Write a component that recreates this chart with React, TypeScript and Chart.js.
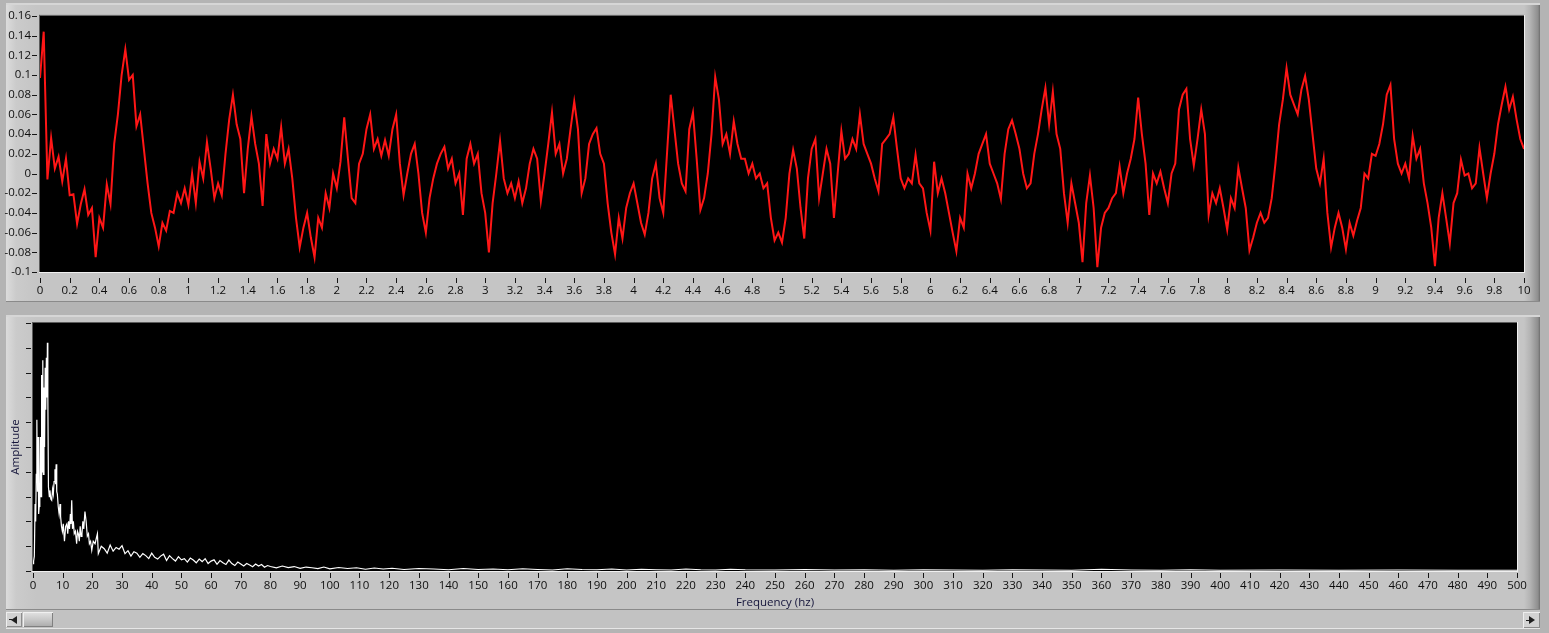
import React, { useEffect, useRef } from "react";
import { Chart, registerables } from "chart.js";

Chart.register(...registerables);

// ---------- Data ----------
const SAMPLE_STEP_S = 0.025;

// signal, t = 0 .. 3.325 s
const signalSeg1 = [
  0.097, 0.144, -0.006, 0.036, 0.005, 0.017, -0.008, 0.015, -0.022, -0.021,
  -0.051, -0.031, -0.016, -0.042, -0.035, -0.085, -0.045, -0.055, -0.011, -0.031,
  0.03, 0.06, 0.1, 0.126, 0.095, 0.1, 0.048, 0.06, 0.025, -0.01,
  -0.04, -0.055, -0.074, -0.05, -0.058, -0.038, -0.04, -0.02, -0.03, -0.015,
  -0.032, 0.0, -0.03, 0.012, -0.005, 0.032, 0.005, -0.025, -0.01, -0.022,
  0.02, 0.055, 0.08, 0.05, 0.035, -0.02, 0.025, 0.058, 0.03, 0.01,
  -0.033, 0.04, 0.01, 0.025, 0.015, 0.047, 0.01, 0.025, -0.005, -0.045,
  -0.075, -0.055, -0.04, -0.065, -0.085, -0.045, -0.055, -0.02, -0.035, 0.0,
  -0.015, 0.012, 0.057, 0.015, -0.025, -0.03, 0.01, 0.02, 0.045, 0.06,
  0.025, 0.035, 0.018, 0.034, 0.018, 0.045, 0.06, 0.01, -0.022, 0.0,
  0.02, 0.03, 0.0, -0.04, -0.06, -0.025, -0.005, 0.01, 0.02, 0.027,
  0.005, 0.015, -0.01, 0.0, -0.042, 0.015, 0.03, 0.01, 0.02, -0.02,
  -0.04, -0.08, -0.03, 0.0, 0.033, -0.005, -0.02, -0.01, -0.025, -0.008,
  -0.03, -0.015, 0.01, 0.025,
];

// signal, t = 3.35 .. 6.675 s
const signalSeg2 = [
  0.015, -0.028, 0.0, 0.03, 0.062, 0.02, 0.03, 0.0, 0.015, 0.045,
  0.073, 0.045, -0.02, -0.005, 0.03, 0.04, 0.046, 0.02, 0.01, -0.03,
  -0.06, -0.082, -0.045, -0.066, -0.035, -0.02, -0.01, -0.03, -0.05, -0.062,
  -0.04, -0.005, 0.01, -0.025, -0.04, 0.02, 0.08, 0.045, 0.01, -0.01,
  -0.018, 0.045, 0.062, 0.015, -0.037, -0.025, 0.0, 0.04, 0.098, 0.075,
  0.03, 0.04, 0.02, 0.053, 0.03, 0.015, 0.015, 0.0, 0.01, -0.005,
  0.0, -0.015, -0.01, -0.045, -0.068, -0.06, -0.07, -0.045, 0.0, 0.024,
  0.005, -0.035, -0.066, -0.005, 0.025, 0.035, -0.025, 0.0, 0.025, 0.01,
  -0.045, 0.0, 0.043, 0.015, 0.02, 0.035, 0.025, 0.06, 0.03, 0.02,
  0.01, -0.005, -0.018, 0.03, 0.035, 0.04, 0.057, 0.025, -0.005, -0.015,
  -0.005, -0.01, 0.019, -0.01, -0.015, -0.04, -0.058, 0.012, -0.02, -0.005,
  -0.02, -0.04, -0.06, -0.079, -0.045, -0.055, 0.0, -0.015, 0.0, 0.02,
  0.03, 0.04, 0.01, 0.0, -0.01, -0.026, 0.02, 0.045, 0.054, 0.04,
  0.025, 0.0, -0.015, -0.01,
];

// signal, t = 6.70 .. 10.0 s
const signalSeg3 = [
  0.02, 0.04, 0.065, 0.087, 0.05, 0.083, 0.04, 0.025, -0.02, -0.05,
  -0.01, -0.03, -0.05, -0.09, -0.03, -0.002, -0.035, -0.095, -0.055, -0.04,
  -0.035, -0.025, -0.02, 0.007, -0.02, 0.0, 0.015, 0.035, 0.077, 0.04,
  0.01, -0.042, 0.0, -0.01, 0.002, -0.015, -0.03, 0.0, 0.01, 0.065,
  0.08, 0.086, 0.035, 0.008, 0.035, 0.065, 0.04, -0.042, -0.02, -0.03,
  -0.015, -0.035, -0.057, -0.025, -0.035, 0.006, -0.015, -0.035, -0.078, -0.065,
  -0.05, -0.04, -0.05, -0.045, -0.025, 0.01, 0.05, 0.075, 0.107, 0.08,
  0.07, 0.06, 0.085, 0.099, 0.075, 0.04, 0.005, -0.01, 0.015, -0.04,
  -0.075, -0.055, -0.04, -0.055, -0.077, -0.05, -0.063, -0.048, -0.035, 0.0,
  -0.005, 0.02, 0.018, 0.03, 0.05, 0.08, 0.09, 0.035, 0.01, 0.0,
  0.01, -0.005, 0.038, 0.015, 0.025, -0.01, -0.03, -0.055, -0.094, -0.045,
  -0.02, -0.045, -0.071, -0.03, -0.02, 0.014, -0.002, 0.0, -0.015, -0.01,
  0.026, 0.0, -0.025, 0.0, 0.02, 0.05, 0.07, 0.088, 0.065, 0.078,
  0.055, 0.035, 0.025,
];

const timeSignal = [...signalSeg1, ...signalSeg2, ...signalSeg3];

// spectrum, 0 .. 21.7 Hz (amplitude in axis divisions 0..10)
const spectrumFreqLow = [
  0, 0.2, 0.45, 0.7, 0.9, 1.1, 1.3, 1.5, 1.7, 1.9,
  2.1, 2.3, 2.5, 2.7, 2.9, 3.1, 3.3, 3.5, 3.7, 3.9,
  4.1, 4.3, 4.5, 4.7, 4.85, 5.0, 5.2, 5.5, 5.7, 6.0,
  6.3, 6.6, 6.85, 7.1, 7.4, 7.6, 7.8, 8.0, 8.2, 8.5,
  8.8, 9.1, 9.3, 9.6, 9.9, 10.2, 10.6, 11.0, 11.4, 11.7,
  12.0, 12.3, 12.6, 12.8, 13.05, 13.3, 13.6, 13.9, 14.3, 14.7,
  15.0, 15.3, 15.6, 15.9, 16.2, 16.5, 16.8, 17.1, 17.5, 17.9,
  18.3, 18.7, 19.0, 19.4, 19.8, 20.3, 20.9, 21.3, 21.7,
];
const spectrumAmpLow = [
  0.3, 0.4, 0.6, 2.7, 2.0, 3.9, 6.1, 3.2, 5.4, 2.3,
  2.6, 3.4, 5.4, 3.0, 7.9, 4.0, 8.5, 3.9, 7.4, 5.0,
  8.2, 6.5, 8.6, 7.0, 9.2, 7.0, 3.4, 3.0, 3.25, 2.9,
  2.85, 3.3, 3.1, 3.6, 4.1, 3.5, 4.3, 3.2, 3.1, 2.6,
  2.3, 2.7, 2.2, 1.8, 1.6, 1.9, 1.2, 1.8, 1.9, 1.5,
  2.0, 1.7, 2.3, 1.9, 2.85, 1.7, 2.0, 1.5, 1.6, 1.1,
  1.6, 1.5, 1.2, 1.8, 1.4, 1.5, 2.0, 1.7, 2.4, 2.0,
  1.4, 1.5, 1.1, 1.2, 0.83, 1.2, 1.1, 1.3, 1.5,
];

// spectrum, 22 .. 121 Hz
const spectrumFreqMid = [
  22, 23, 24, 25, 26, 27, 28, 29, 30, 31,
  32, 33, 34, 35, 36, 37, 38, 39, 40, 41,
  42, 43, 44, 45, 46, 47, 48, 49, 50, 51,
  52, 53, 54, 55, 56, 57, 58, 59, 60, 61,
  62, 63, 64, 65, 66, 67, 68, 69, 70, 71,
  72, 73, 74, 75, 76, 77, 78, 79, 80, 82,
  84, 86, 88, 90, 92, 94, 96, 98, 100, 103,
  106, 109, 112, 115, 118, 121,
];
const spectrumAmpMid = [
  0.7, 1.0, 0.9, 0.72, 1.05, 0.8, 0.95, 0.88, 1.02, 0.7,
  0.82, 0.6, 0.78, 0.72, 0.55, 0.7, 0.62, 0.5, 0.72, 0.55,
  0.48, 0.6, 0.68, 0.42, 0.62, 0.5, 0.4, 0.58, 0.45, 0.5,
  0.36, 0.52, 0.44, 0.33, 0.48, 0.38, 0.5, 0.3, 0.4, 0.45,
  0.27, 0.42, 0.33, 0.26, 0.44, 0.3, 0.22, 0.36, 0.28, 0.2,
  0.3, 0.24, 0.17, 0.28, 0.2, 0.26, 0.15, 0.22, 0.18, 0.13,
  0.2, 0.14, 0.18, 0.11, 0.16, 0.13, 0.1, 0.16, 0.09, 0.14,
  0.1, 0.13, 0.07, 0.12, 0.08, 0.11,
];

// spectrum, 125 .. 500 Hz
const spectrumFreqHigh = [
  125, 130, 135, 140, 145, 150, 155, 160, 165, 170,
  175, 180, 185, 190, 195, 200, 205, 210, 215, 220,
  225, 230, 235, 240, 250, 260, 270, 280, 290, 300,
  310, 320, 330, 340, 350, 360, 370, 380, 390, 400,
  420, 440, 460, 480, 500,
];
const spectrumAmpHigh = [
  0.06, 0.1, 0.08, 0.05, 0.1, 0.06, 0.08, 0.05, 0.09, 0.06,
  0.04, 0.09, 0.06, 0.05, 0.08, 0.04, 0.07, 0.05, 0.04, 0.08,
  0.05, 0.04, 0.07, 0.05, 0.04, 0.06, 0.04, 0.05, 0.03, 0.05,
  0.04, 0.03, 0.05, 0.04, 0.03, 0.07, 0.04, 0.03, 0.05, 0.03,
  0.04, 0.03, 0.04, 0.03, 0.03,
];

const topYTicks = [-0.1, -0.08, -0.06, -0.04, -0.02, 0, 0.02, 0.04, 0.06, 0.08, 0.1, 0.12, 0.14, 0.16];
const topXTickStep = 0.2;
const topXTickCount = 51;
const bottomXTickStep = 10;
const bottomXTickCount = 51;
const bottomYTicks = [0, 1, 2, 3, 4, 5, 6, 7, 8, 9, 10];

// ---------- Styling helpers ----------
const FONT_FAMILY = "'Open Sans', 'DejaVu Sans', sans-serif";
const FONT_SIZE = 11.5;
const TEXT = "#0e0e0e";
const TITLE = "#14143a";

const fmt = (v: number) => String(parseFloat(v.toFixed(2)));

const lvPlugin = {
  id: "lvFrame",
  beforeDraw(chart: any) {
    const { ctx, chartArea: a } = chart;
    ctx.save();
    ctx.fillStyle = "#000000";
    ctx.fillRect(a.left, a.top, a.right - a.left, a.bottom - a.top);
    ctx.restore();
  },
  afterDraw(chart: any, _args: any, opts: any) {
    const { ctx, chartArea: a, scales } = chart;
    ctx.save();
    ctx.fillStyle = "#5c5c5c";
    ctx.fillRect(a.left - 1, a.top - 1, a.right - a.left + 2, 1);
    ctx.fillRect(a.left - 1, a.top - 1, 1, a.bottom - a.top + 2);
    ctx.fillStyle = "#f0f0f0";
    ctx.fillRect(a.left - 1, a.bottom, a.right - a.left + 2, 1);
    ctx.fillRect(a.right, a.top - 1, 1, a.bottom - a.top + 2);
    ctx.fillStyle = "#161616";
    const xs = scales.x;
    xs.ticks.forEach((t: any) => {
      const px = Math.round(xs.getPixelForValue(t.value));
      ctx.fillRect(px, a.bottom + opts.xFrom, 1, opts.xLen);
    });
    const ys = scales.y;
    ys.ticks.forEach((t: any) => {
      const py = Math.round(ys.getPixelForValue(t.value));
      ctx.fillRect(a.left - opts.yFrom - opts.yLen, py, opts.yLen, 1);
    });
    ctx.restore();
  },
};

const noGrid = { display: false, drawTicks: false, tickLength: 0 };

function topConfig(): any {
  const points = timeSignal.map((v, i) => ({ x: i * SAMPLE_STEP_S, y: v }));
  const xTicks = Array.from({ length: topXTickCount }, (_, i) => i * topXTickStep);
  return {
    type: "line",
    data: {
      datasets: [
        {
          data: points,
          borderColor: "rgb(255,22,22)",
          borderWidth: 2,
          pointRadius: 0,
          tension: 0,
          fill: false,
        },
      ],
    },
    options: {
      responsive: false,
      animation: false,
      devicePixelRatio: 1,
      events: [],
      layout: { padding: { left: 0, right: 25, top: 12, bottom: 0 } },
      plugins: {
        legend: { display: false },
        tooltip: { enabled: false },
        lvFrame: { xFrom: 6, xLen: 5, yFrom: 3, yLen: 5 },
      },
      scales: {
        x: {
          type: "linear",
          min: 0,
          max: 10,
          grid: noGrid,
          border: { display: false },
          afterBuildTicks: (s: any) => {
            s.ticks = xTicks.map((v) => ({ value: v }));
          },
          afterFit: (s: any) => {
            s.height = 30;
          },
          ticks: {
            autoSkip: false,
            maxRotation: 0,
            minRotation: 0,
            padding: 12,
            color: TEXT,
            font: { family: FONT_FAMILY, size: FONT_SIZE },
            callback: (v: number) => fmt(v),
          },
        },
        y: {
          type: "linear",
          min: -0.1,
          max: 0.16,
          grid: noGrid,
          border: { display: false },
          afterBuildTicks: (s: any) => {
            s.ticks = topYTicks.map((v) => ({ value: v }));
          },
          afterFit: (s: any) => {
            s.width = 40;
          },
          ticks: {
            autoSkip: false,
            padding: 9,
            color: TEXT,
            font: { family: FONT_FAMILY, size: FONT_SIZE },
            callback: (v: number) => fmt(v),
          },
        },
      },
    },
    plugins: [lvPlugin],
  };
}

function bottomConfig(): any {
  const freqs = [...spectrumFreqLow, ...spectrumFreqMid, ...spectrumFreqHigh];
  const amps = [...spectrumAmpLow, ...spectrumAmpMid, ...spectrumAmpHigh];
  const points = freqs.map((f, i) => ({ x: f, y: amps[i] }));
  const xTicks = Array.from({ length: bottomXTickCount }, (_, i) => i * bottomXTickStep);
  return {
    type: "line",
    data: {
      datasets: [
        {
          data: points,
          borderColor: "#ffffff",
          borderWidth: 1.2,
          pointRadius: 0,
          tension: 0,
          fill: false,
        },
      ],
    },
    options: {
      responsive: false,
      animation: false,
      devicePixelRatio: 1,
      events: [],
      layout: { padding: { left: 0, right: 32, top: 13, bottom: 0 } },
      plugins: {
        legend: { display: false },
        tooltip: { enabled: false },
        lvFrame: { xFrom: 2, xLen: 5, yFrom: 2, yLen: 5 },
      },
      scales: {
        x: {
          type: "linear",
          min: 0,
          max: 500,
          grid: noGrid,
          border: { display: false },
          afterBuildTicks: (s: any) => {
            s.ticks = xTicks.map((v) => ({ value: v }));
          },
          afterFit: (s: any) => {
            s.height = 39;
          },
          title: {
            display: true,
            text: "Frequency (hz)",
            color: TITLE,
            padding: { top: 0, bottom: 0 },
            font: { family: FONT_FAMILY, size: FONT_SIZE },
          },
          ticks: {
            autoSkip: false,
            maxRotation: 0,
            minRotation: 0,
            padding: 8,
            color: TEXT,
            font: { family: FONT_FAMILY, size: FONT_SIZE },
            callback: (v: number) => fmt(v),
          },
        },
        y: {
          type: "linear",
          min: 0,
          max: 10,
          grid: noGrid,
          border: { display: false },
          afterBuildTicks: (s: any) => {
            s.ticks = bottomYTicks.map((v) => ({ value: v }));
          },
          afterFit: (s: any) => {
            s.width = 33;
          },
          title: {
            display: true,
            text: "Amplitude",
            color: TITLE,
            padding: { top: 9, bottom: 0 },
            font: { family: FONT_FAMILY, size: FONT_SIZE },
          },
          ticks: { display: false },
        },
      },
    },
    plugins: [lvPlugin],
  };
}

const panelStyle = (top: number, height: number): React.CSSProperties => ({
  position: "absolute",
  left: 6,
  top,
  width: 1534,
  height,
  background:
    "linear-gradient(to right, #dcdcdc 0px, #cbcbcb 10px, #c5c5c5 30px, #c5c5c5 calc(100% - 16px), #b4b4b4 calc(100% - 10px), #8e8e8e calc(100% - 2px), #6e6e6e 100%)",
  boxShadow: "inset 0 2px 0 #d6d6d6, inset 0 -1px 0 #8a8a8a",
});

const arrow = (dir: "left" | "right"): React.CSSProperties => ({
  position: "absolute",
  top: 4,
  left: dir === "left" ? 5 : 6,
  width: 0,
  height: 0,
  borderTop: "4px solid transparent",
  borderBottom: "4px solid transparent",
  ...(dir === "left"
    ? { borderRight: "6px solid #202020" }
    : { borderLeft: "6px solid #202020" }),
});

export default function App() {
  const topRef = useRef<HTMLCanvasElement>(null);
  const botRef = useRef<HTMLCanvasElement>(null);

  useEffect(() => {
    const top = new Chart(topRef.current as HTMLCanvasElement, topConfig());
    const bot = new Chart(botRef.current as HTMLCanvasElement, bottomConfig());
    return () => {
      top.destroy();
      bot.destroy();
    };
  }, []);

  return (
    <div
      style={{
        position: "fixed",
        left: 0,
        top: 0,
        width: 1549,
        height: 633,
        background: "#b4b4b4",
        overflow: "hidden",
      }}
    >
      <div style={panelStyle(3, 299)} />
      <div style={panelStyle(315, 295)} />
      <canvas
        ref={topRef}
        width={1549}
        height={302}
        style={{ position: "absolute", left: 0, top: 0, width: 1549, height: 302 }}
      />
      <canvas
        ref={botRef}
        width={1549}
        height={300}
        style={{ position: "absolute", left: 0, top: 310, width: 1549, height: 300 }}
      />
      <div
        style={{
          position: "absolute",
          left: 6,
          top: 610,
          width: 1534,
          height: 18,
          background: "#c2c2c2",
          borderBottom: "1px solid #e6e6e6",
        }}
      />
      <div
        style={{
          position: "absolute",
          left: 6,
          top: 612,
          width: 16,
          height: 15,
          background: "#d2d2d2",
          boxShadow: "inset 1px 1px 0 #eeeeee, inset -1px -1px 0 #8c8c8c",
        }}
      >
        <div style={arrow("left")} />
        <div style={{ position: "absolute", left: 3, top: 7, width: 3, height: 1, background: "#202020" }} />
      </div>
      <div
        style={{
          position: "absolute",
          left: 23,
          top: 612,
          width: 30,
          height: 15,
          background: "linear-gradient(to bottom, #e2e2e2, #c8c8c8 50%, #aaaaaa)",
          boxShadow: "inset 1px 1px 0 #f0f0f0, inset -1px -1px 0 #808080",
        }}
      />
      <div
        style={{
          position: "absolute",
          left: 1523,
          top: 612,
          width: 17,
          height: 16,
          background: "#d2d2d2",
          boxShadow: "inset 1px 1px 0 #eeeeee, inset -1px -1px 0 #8c8c8c",
        }}
      >
        <div style={arrow("right")} />
        <div style={{ position: "absolute", left: 3, top: 8, width: 4, height: 1, background: "#202020" }} />
      </div>
    </div>
  );
}
